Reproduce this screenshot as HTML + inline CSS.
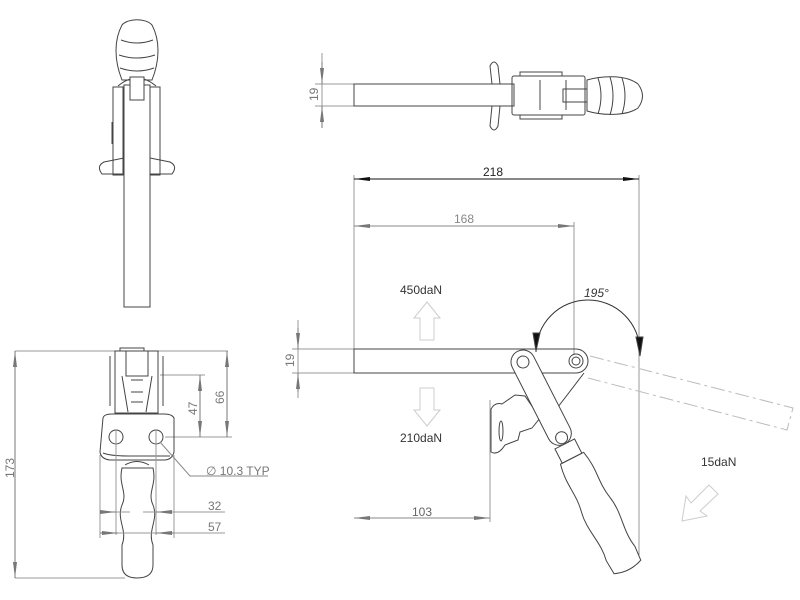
<!DOCTYPE html>
<html><head><meta charset="utf-8"><style>
html,body{margin:0;padding:0;background:#fff;}
svg{display:block;}
text{font-family:"Liberation Sans",sans-serif;}
</style></head><body>
<svg width="800" height="600" viewBox="0 0 800 600" xmlns="http://www.w3.org/2000/svg">
<defs>
<marker id="a" markerWidth="16" markerHeight="6" refX="16" refY="3" orient="auto" markerUnits="userSpaceOnUse"><path d="M0,1 L16,3 L0,5 z" fill="#777"/></marker>
<marker id="ab" markerWidth="16" markerHeight="6" refX="16" refY="3" orient="auto" markerUnits="userSpaceOnUse"><path d="M0,1 L16,3 L0,5 z" fill="#111"/></marker>
</defs>
<g fill="none" stroke="#444" stroke-width="1">
<!-- Top-left view -->
<path d="M122,80 C114,60 114,40 122,25 C128,18 146,18 152,25 C160,40 160,60 152,80 Z"/>
<path d="M121,40 Q137,46 153,40 M119,55 Q137,61 155,55 M120,68 Q137,74 154,68"/>
<path d="M118,86 Q137,70 156,86"/>
<rect x="130" y="77" width="14" height="23"/>
<rect x="113" y="87" width="10" height="88"/>
<rect x="150" y="87" width="10" height="88"/>
<path d="M112,122 v22 M160,122 v22"/>
<rect x="124" y="85" width="26" height="222" fill="#fff"/>
<rect x="130" y="77" width="14" height="23" fill="#fff"/>
<path d="M124,158 L104,162 Q96,166 102,174 L124,174 M150,158 L170,162 Q178,166 172,174 L150,174"/>
<!-- Top-center view -->
<path d="M322,53 V125 M315,84 H354 M315,106 H354" stroke="#999"/>
<path d="M322,62 V84" stroke="#777" marker-end="url(#a)"/>
<path d="M322,128 V106" stroke="#777" marker-end="url(#a)"/>
<rect x="354" y="84" width="160" height="22"/>
<path d="M492,84 L490,66 Q494,58 498,66 L500,84 M492,106 L490,126 Q494,134 498,126 L500,106"/>
<rect x="512" y="76" width="73" height="39" rx="2"/>
<path d="M520,76 v-4 h42 v4 M520,115 v4 h42 v-4 M540,80 v30 M566,80 v30"/>
<rect x="563" y="89" width="24" height="13"/>
<path d="M587,80 C600,76 625,74 638,84 C644,92 644,100 638,108 C625,117 600,115 587,111 Z"/>
<path d="M598,78 Q604,96 598,114 M610,77 Q616,96 610,115 M622,78 Q628,96 622,114"/>
<!-- Main view dims -->
<path d="M354,175 V350 M639,175 V555 M574,222 V355 M490,400 V522" stroke="#999"/>
<path d="M496,179 H354" stroke="#111" marker-end="url(#ab)"/>
<path d="M496,179 H639" stroke="#111" marker-end="url(#ab)"/>
<path d="M464,226 H354" stroke="#888" marker-end="url(#a)"/>
<path d="M464,226 H574" stroke="#888" marker-end="url(#a)"/>
<path d="M422,518 H354" stroke="#888" marker-end="url(#a)"/>
<path d="M422,518 H490" stroke="#888" marker-end="url(#a)"/>
<path d="M298,320 V398 M292,349 H354 M292,373 H354" stroke="#999"/>
<path d="M298,328 V349" stroke="#777" marker-end="url(#a)"/>
<path d="M298,392 V373" stroke="#777" marker-end="url(#a)"/>
<path d="M536,352 A52,52 0 0 1 640,352" stroke="#333"/>
<path d="M533,333 L536,351 L540,333 Z M636,337 L640,356 L643,337 Z" fill="#111"/>
<!-- force arrows -->
<path d="M427,302 L440,318 H434 V340 H420 V318 H414 Z" stroke="#ccc"/>
<path d="M427,426 L440,410 H434 V388 H420 V410 H414 Z" stroke="#ccc"/>
<path d="M682,521 L707,516 L700,511 L718,494 L709,485 L691,503 L686,496 Z" stroke="#ccc"/>
<!-- phantom -->
<path d="M590,356 L793,408 L787,430 L588,378" stroke="#bbb" stroke-dasharray="14,4,3,4"/>
<!-- bar -->
<path d="M354,349 H576 A12,12 0 0 1 576,373 H354 Z"/>
<circle cx="576" cy="361" r="7"/><circle cx="576" cy="361" r="4"/>
<path d="M584,373 L548,420"/>
<!-- base -->
<path d="M491,409 Q495,402 502,404 L515,395 L525,396 L540,418 L532,428 L520,432 L518,440 L505,445 Q498,456 491,452 Z"/>
<ellipse cx="501" cy="431" rx="2" ry="10"/>
<!-- link & handle -->
<g transform="translate(523,362) rotate(63)">
<rect x="-12" y="-12" width="104" height="24" rx="12" fill="#fff"/>
<circle cx="0" cy="0" r="6"/>
<circle cx="85" cy="0" r="6"/>
<rect x="92" y="-11" width="16" height="22"/>
<path d="M108,-13 C130,-18 140,-12 160,-16 C180,-20 195,-12 215,-16 L230,-15 Q236,0 230,15 L215,16 C195,12 180,20 160,16 C140,12 130,18 108,13 Z"/>
</g>
<!-- Bottom-left view -->
<path d="M15,351 H228 M15,578 H125 M160,375 H205 M165,437 H232" stroke="#999"/>
<path d="M15,465 V351" stroke="#777" marker-end="url(#a)"/>
<path d="M15,465 V578" stroke="#777" marker-end="url(#a)"/>
<path d="M227,395 V351" stroke="#777" marker-end="url(#a)"/>
<path d="M227,395 V437" stroke="#777" marker-end="url(#a)"/>
<path d="M200,405 V375" stroke="#777" marker-end="url(#a)"/>
<path d="M200,405 V437" stroke="#777" marker-end="url(#a)"/>
<rect x="115" y="351" width="43" height="62"/>
<path d="M110,356 v50 M163,356 v50 M120,351 v-3 h24 v3 M126,351 v25 h22 v-25"/>
<path d="M122,376 L128,412 M152,376 L146,412 M131,380 h12 M131,392 h12 M131,402 h12"/>
<path d="M103,418 Q104,414 112,414 L164,414 Q172,414 174,418 L174,452 Q172,460 164,460 L110,460 Q101,459 100,452 Z"/>
<path d="M103,453 Q110,456 130,456 H170"/>
<circle cx="116" cy="437" r="7"/><circle cx="156" cy="437" r="7"/>
<path d="M116,430 V535 M156,430 V535 M100,455 V538 M174,455 V538" stroke="#999"/>
<path d="M160,442 L190,476 H268" stroke="#888"/>
<path d="M125,465 Q137,458 149,465"/>
<path d="M122,468 C118,485 128,492 122,505 C116,520 128,530 122,545 L122,565 Q122,578 137,578 Q153,578 153,565 L153,545 C147,530 159,520 153,505 C147,492 157,485 153,468 Z"/>
<path d="M130,512 H116 M143,512 H156 M156,512 H225 M100,533 H225" stroke="#999"/>
<path d="M100,533 H118" stroke="#777" marker-end="url(#a)"/>
<path d="M174,533 H156" stroke="#777" marker-end="url(#a)"/>
<path d="M100,512 H116" stroke="#777" marker-end="url(#a)"/>
<path d="M172,512 H156" stroke="#777" marker-end="url(#a)"/>
</g>
<g fill="#555" font-size="12">
<text x="483" y="176" fill="#222">218</text>
<text x="454" y="223" fill="#888">168</text>
<text x="412" y="516" fill="#666">103</text>
<text x="400" y="294" fill="#333">450daN</text>
<text x="400" y="442" fill="#333">210daN</text>
<text x="701" y="466" fill="#333">15daN</text>
<text x="584" y="297" fill="#333" font-style="italic">195°</text>
<text transform="translate(318,101) rotate(-90)" fill="#777">19</text>
<text transform="translate(294,367) rotate(-90)" fill="#777">19</text>
<text transform="translate(14,478) rotate(-90)" fill="#777">173</text>
<text transform="translate(197,415) rotate(-90)" fill="#777">47</text>
<text transform="translate(224,404) rotate(-90)" fill="#777">66</text>
<text x="206" y="475" fill="#777">∅ 10.3 TYP</text>
<text x="208" y="510" fill="#777">32</text>
<text x="208" y="531" fill="#777">57</text>
</g>
</svg>
</body></html>
